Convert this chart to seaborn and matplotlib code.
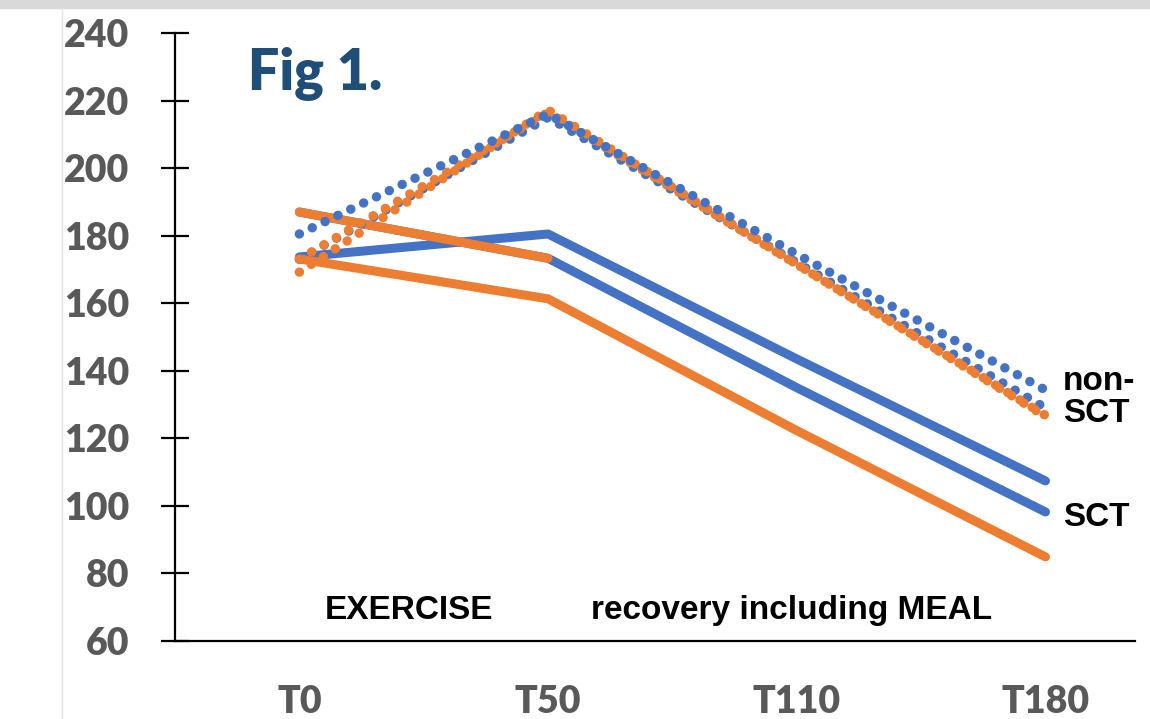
import matplotlib
matplotlib.use("Agg")
import numpy as np
import seaborn as sns
import matplotlib.pyplot as plt
from matplotlib.patches import Rectangle
from matplotlib.lines import Line2D

# === Data ===
times = ["T0", "T50", "T110", "T180"]

# SCT (solid lines)
sct_blue_hi = [173.7, 180.5, 143.5, 107.4]
sct_blue_lo = [187.0, 173.3, 135.0, 98.2]
sct_orange_hi = [187.0, 173.3, np.nan, np.nan]
sct_orange_lo = [173.1, 161.3, 122.3, 84.9]

# non-SCT (dotted lines)
non_blue_a = [180.5, 216.0, 174.5, 134.3]
non_blue_b = [173.0, 215.0, 172.0, 129.0]
non_orange_a = [169.2, 217.2, 171.5, 126.5]
non_orange_b = [173.0, 216.5, 171.5, 126.8]

yticks = [60, 80, 100, 120, 140, 160, 180, 200, 220, 240]

BLUE = "#4472C4"
ORANGE = "#ED7D31"
GRAY = "#595959"

sns.set_style("white")
plt.rcParams["font.family"] = ["Lato", "DejaVu Sans"]

fig = plt.figure(figsize=(11.5, 7.19), dpi=100)
W, H = 1150, 719
ax = fig.add_axes([175 / W, (H - 641) / H, (1135 - 175) / W, (641 - 33) / H])

# === Solid lines ===
solid = dict(lw=6.5, solid_capstyle="round", solid_joinstyle="round", sort=False, ax=ax)
sns.lineplot(x=times, y=sct_blue_lo, color=BLUE, **solid)
sns.lineplot(x=times, y=sct_blue_hi, color=BLUE, **solid)
sns.lineplot(x=times, y=sct_orange_lo, color=ORANGE, **solid)
sns.lineplot(x=times, y=sct_orange_hi, color=ORANGE, **solid)

# === Dotted lines ===
dotted = dict(lw=6.8, linestyle=(0, (0.01, 1.5)), dash_capstyle="round", sort=False, ax=ax)
sns.lineplot(x=times, y=non_blue_b, color=BLUE, **dotted)
sns.lineplot(x=times, y=non_orange_a, color=ORANGE, **dotted)
sns.lineplot(x=times, y=non_orange_b, color=ORANGE, **dotted)
sns.lineplot(x=times, y=non_blue_a, color=BLUE, **dotted)

# === Axes styling ===
ax.set_ylim(60, 240)
ax.set_xlim(-0.5, 3.36)
ax.set_yticks(yticks)
ax.set_xlabel("")
ax.set_ylabel("")
for side in ["top", "right"]:
    ax.spines[side].set_visible(False)
for side in ["left", "bottom"]:
    ax.spines[side].set_color("black")
    ax.spines[side].set_linewidth(1.6)
ax.tick_params(axis="y", left=True, direction="inout", length=20, width=1.6, color="black",
               pad=23, labelsize=27, labelcolor=GRAY)
ax.tick_params(axis="x", bottom=False, length=0, pad=32, labelsize=27, labelcolor=GRAY)
for lab in ax.get_xticklabels() + ax.get_yticklabels():
    lab.set_fontweight("heavy")

# === Annotations ===
ann = dict(fontsize=24, fontweight="bold", color="black", family=["Liberation Sans", "DejaVu Sans"])
ax.text(0.44, 69, "EXERCISE", ha="center", va="center", **ann)
ax.text(1.98, 69, "recovery including MEAL", ha="center", va="center", **ann)
ax.text(3.07, 132, "non-\nSCT", ha="left", va="center", linespacing=1.05, **ann)
ax.text(3.07, 96.7, "SCT", ha="left", va="center", **ann)

fig.text(248 / W, 1 - 74 / H, "Fig 1.", ha="left", va="center", fontsize=40,
         fontweight="heavy", color="#1F4E79")

# screenshot frame
fig.patches.append(Rectangle((0, 1 - 8 / H), 1, 8 / H, transform=fig.transFigure,
                             color="#d9d9d9", zorder=0))
fig.lines.append(Line2D([62 / W, 62 / W], [0, 1 - 8 / H], transform=fig.transFigure,
                        color="#e3e3e3", lw=1))

fig.savefig("out.png", dpi=100)
